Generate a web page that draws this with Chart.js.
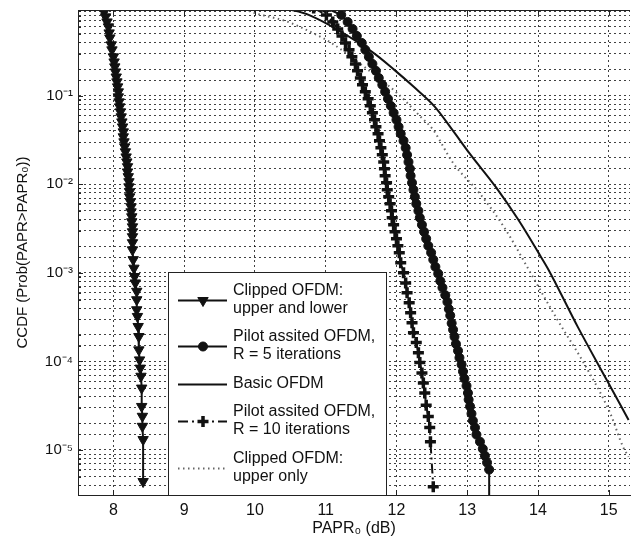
<!DOCTYPE html>
<html>
<head>
<meta charset="utf-8">
<title>CCDF of PAPR</title>
<script src="https://cdn.jsdelivr.net/npm/chart.js@4.4.1/dist/chart.umd.min.js"></script>
<style>
  html, body { margin: 0; padding: 0; background: #fff; }
  #wrap { width: 639px; height: 542px; position: relative; }
</style>
</head>
<body>
<div id="wrap"><canvas id="ccdf"></canvas></div>
<script>
// Clipped OFDM, upper and lower clipping (down triangles)
const clipBothPapr = [7.85, 7.87, 7.89, 7.91, 7.93, 7.94, 7.95, 7.97, 7.98, 8.00,
  8.01, 8.02, 8.03, 8.04, 8.05, 8.06, 8.07, 8.07, 8.08, 8.09,
  8.10, 8.11, 8.12, 8.13, 8.14, 8.14, 8.15, 8.16, 8.17, 8.18,
  8.19, 8.20, 8.20, 8.21, 8.22, 8.22, 8.23, 8.23, 8.24, 8.25,
  8.25, 8.26, 8.26, 8.27, 8.27, 8.27, 8.27, 8.27, 8.28, 8.29,
  8.30, 8.31, 8.33, 8.33, 8.33, 8.34, 8.35, 8.36, 8.36, 8.37,
  8.38, 8.39, 8.40, 8.40, 8.41, 8.41, 8.42, 8.42];
const clipBothCcdf = [0.99, 0.885, 0.778, 0.682, 0.600, 0.513, 0.450, 0.376, 0.330, 0.275,
  0.241, 0.212, 0.186, 0.163, 0.1435, 0.126, 0.1107, 0.0972, 0.0853, 0.0750,
  0.0658, 0.0578, 0.0507, 0.0445, 0.0391, 0.0344, 0.0302, 0.0265, 0.0233, 0.0204,
  0.0179, 0.0158, 0.0138, 0.0122, 0.0107, 0.00937, 0.00823, 0.00723, 0.00635, 0.00557,
  0.00489, 0.00430, 0.00378, 0.00331, 0.00291, 0.00256, 0.00219, 0.00182, 0.00141, 0.00113,
  9.1e-4, 7.7e-4, 6.2e-4, 4.97e-4, 3.83e-4, 3.22e-4, 2.48e-4, 1.91e-4, 1.35e-4, 1.04e-4,
  8.4e-5, 6.8e-5, 5.0e-5, 3.1e-5, 2.4e-5, 1.85e-5, 1.31e-5, 4.4e-6];

// Pilot assisted OFDM, R = 5 (circles)
const pilot5Papr = [11.00, 11.22, 11.31, 11.38, 11.44, 11.51, 11.56, 11.61, 11.66, 11.71,
  11.75, 11.80, 11.84, 11.88, 11.92, 11.96, 12.00, 12.03, 12.06, 12.10,
  12.13, 12.15, 12.17, 12.19, 12.20, 12.22, 12.24, 12.26, 12.28, 12.31,
  12.33, 12.36, 12.39, 12.42, 12.45, 12.49, 12.52, 12.55, 12.59, 12.62,
  12.65, 12.69, 12.72, 12.74, 12.76, 12.78, 12.80, 12.82, 12.84, 12.87,
  12.89, 12.92, 12.94, 12.96, 12.99, 13.01, 13.02, 13.04, 13.06, 13.08,
  13.11, 13.13, 13.18, 13.22, 13.25, 13.28, 13.31, 13.31];
const pilot5Ccdf = [0.98, 0.819, 0.682, 0.569, 0.474, 0.395, 0.330, 0.275, 0.229, 0.191,
  0.159, 0.133, 0.111, 0.0923, 0.0769, 0.0641, 0.0535, 0.0446, 0.0372, 0.0310,
  0.0258, 0.0215, 0.0179, 0.0150, 0.0125, 0.0104, 0.00867, 0.00723, 0.00603, 0.00502,
  0.00419, 0.00349, 0.00291, 0.00243, 0.00202, 0.00169, 0.00141, 0.00117, 9.8e-4, 8.1e-4,
  6.8e-4, 5.6e-4, 4.7e-4, 3.9e-4, 3.3e-4, 2.7e-4, 2.28e-4, 1.90e-4, 1.58e-4, 1.32e-4,
  1.10e-4, 9.2e-5, 7.7e-5, 6.4e-5, 5.3e-5, 4.4e-5, 3.7e-5, 3.1e-5, 2.57e-5, 2.14e-5,
  1.79e-5, 1.49e-5, 1.24e-5, 1.03e-5, 8.6e-6, 7.2e-6, 6.0e-6, 2.0e-6];

// Basic OFDM (plain solid)
const basicPapr = [10.45, 10.76, 11.65, 11.97, 12.24, 12.54, 12.79, 13.03, 13.40, 13.72,
  14.01, 14.15, 14.56, 14.97, 15.28];
const basicCcdf = [0.96, 0.82, 0.315, 0.196, 0.127, 0.0755, 0.0412, 0.0225, 0.0094, 0.0040,
  0.00167, 0.00108, 2.47e-4, 6.2e-5, 2.18e-5];

// Pilot assisted OFDM, R = 10 (plus signs, dash-dot)
const pilot10Papr = [10.83, 11.01, 11.10, 11.17, 11.23, 11.28, 11.33, 11.37, 11.42, 11.45,
  11.49, 11.52, 11.56, 11.60, 11.63, 11.66, 11.69, 11.71, 11.74, 11.76,
  11.78, 11.80, 11.82, 11.83, 11.84, 11.86, 11.87, 11.89, 11.91, 11.93,
  11.94, 11.96, 11.98, 12.00, 12.02, 12.04, 12.06, 12.10, 12.13, 12.15,
  12.18, 12.20, 12.22, 12.24, 12.28, 12.31, 12.33, 12.36, 12.38, 12.40,
  12.42, 12.45, 12.47, 12.48, 12.52];
const pilot10Ccdf = [0.98, 0.819, 0.682, 0.569, 0.474, 0.395, 0.330, 0.275, 0.229, 0.191,
  0.159, 0.133, 0.111, 0.0923, 0.0769, 0.0641, 0.0535, 0.0446, 0.0372, 0.0310,
  0.0258, 0.0215, 0.0179, 0.0150, 0.0125, 0.0104, 0.00867, 0.00723, 0.00603, 0.00502,
  0.00419, 0.00349, 0.00291, 0.00243, 0.00202, 0.00169, 0.00130, 0.00100, 7.7e-4, 5.96e-4,
  4.6e-4, 3.55e-4, 2.73e-4, 2.11e-4, 1.63e-4, 1.25e-4, 9.7e-5, 7.4e-5, 5.7e-5, 4.4e-5,
  3.2e-5, 2.38e-5, 1.79e-5, 1.24e-5, 3.85e-6];

// Clipped OFDM, upper clipping only (dotted)
const clipUpperPapr = [9.85, 9.94, 10.45, 10.82, 11.09, 11.60, 12.01, 12.34, 12.52, 12.80,
  13.17, 13.54, 13.92, 14.28, 14.65, 15.02, 15.20, 15.28];
const clipUpperCcdf = [0.96, 0.89, 0.69, 0.51, 0.39, 0.196, 0.107, 0.058, 0.041, 0.0174,
  0.0080, 0.0031, 9.2e-4, 2.9e-4, 9.5e-5, 2.6e-5, 1.09e-5, 8.4e-6];

const seriesNames = [
  ['Clipped OFDM:', 'upper and lower'],
  ['Pilot assited OFDM,', 'R = 5 iterations'],
  ['Basic OFDM'],
  ['Pilot assited OFDM,', 'R = 10 iterations'],
  ['Clipped OFDM:', 'upper only']
];

const xTicks = [8, 9, 10, 11, 12, 13, 14, 15];
const xRange = [7.5, 15.3];
const yRange = [3.1e-6, 0.93];
const yDecades = [1e-1, 1e-2, 1e-3, 1e-4, 1e-5];
const yDecadeLabels = ['10\u207B\u00B9', '10\u207B\u00B2', '10\u207B\u00B3', '10\u207B\u2074', '10\u207B\u2075'];

const FONT = "'Liberation Sans', Arial, Helvetica, sans-serif";
const INK = '#111';

function toPoints(xs, ys) {
  return xs.map((x, i) => ({ x: x, y: ys[i] }));
}

function decadeIndex(v) {
  return yDecades.findIndex(d => Math.abs(Math.log10(v) - Math.log10(d)) < 1e-6);
}

// marker shapes for the legend samples (same geometry Chart.js uses)
function drawMarker(ctx, style, x, y, r, rotation, color, width) {
  ctx.save();
  ctx.translate(x, y);
  ctx.rotate((rotation || 0) * Math.PI / 180);
  ctx.setLineDash([]);
  ctx.fillStyle = color;
  ctx.strokeStyle = color;
  ctx.lineWidth = width;
  ctx.beginPath();
  if (style === 'triangle') {
    for (let k = 0; k < 3; k++) {
      const a = k * 2 * Math.PI / 3;
      const px = Math.sin(a) * r, py = -Math.cos(a) * r;
      if (k) ctx.lineTo(px, py); else ctx.moveTo(px, py);
    }
    ctx.closePath();
    ctx.fill();
    ctx.stroke();
  } else if (style === 'circle') {
    ctx.arc(0, 0, r, 0, Math.PI * 2);
    ctx.fill();
    ctx.stroke();
  } else if (style === 'cross') {
    ctx.moveTo(-r, 0); ctx.lineTo(r, 0);
    ctx.moveTo(0, -r); ctx.lineTo(0, r);
    ctx.stroke();
  }
  ctx.restore();
}

// top border and inward tick marks, matlab style
const framePlugin = {
  id: 'frame',
  afterDraw(chart) {
    const { ctx, chartArea: a, scales } = chart;
    ctx.save();
    ctx.strokeStyle = '#222';
    ctx.lineWidth = 1;
    ctx.beginPath();
    ctx.moveTo(a.left, a.top + 0.5);
    ctx.lineTo(a.right, a.top + 0.5);
    scales.x.ticks.forEach(t => {
      const px = Math.round(scales.x.getPixelForValue(t.value)) + 0.5;
      ctx.moveTo(px, a.bottom); ctx.lineTo(px, a.bottom - 5);
      ctx.moveTo(px, a.top); ctx.lineTo(px, a.top + 5);
    });
    scales.y.ticks.forEach(t => {
      const py = Math.round(scales.y.getPixelForValue(t.value)) + 0.5;
      const len = decadeIndex(t.value) >= 0 ? 5 : 3;
      ctx.moveTo(a.left, py); ctx.lineTo(a.left + len, py);
    });
    ctx.stroke();
    ctx.restore();
  }
};

// boxed legend with two-line entries
const boxLegendPlugin = {
  id: 'boxLegend',
  afterDraw(chart) {
    const ctx = chart.ctx;
    const box = { left: 168, top: 272, right: 386, bottom: 495 };
    const lineH = 18, entryGap = 10.5;
    ctx.save();
    ctx.fillStyle = '#fff';
    ctx.fillRect(box.left, box.top, box.right - box.left, box.bottom - box.top);
    ctx.strokeStyle = '#222';
    ctx.lineWidth = 1;
    ctx.strokeRect(box.left + 0.5, box.top + 0.5, box.right - box.left, box.bottom - box.top);

    ctx.font = '16px ' + FONT;
    ctx.textBaseline = 'middle';
    ctx.textAlign = 'left';
    let y = box.top + 18.5;
    chart.data.datasets.forEach(ds => {
      const lines = ds.legendLines;
      const midY = Math.round(y + (lines.length - 1) * lineH / 2) + 0.5;
      // sample line
      ctx.save();
      ctx.strokeStyle = ds.borderColor;
      ctx.lineWidth = ds.borderWidth;
      ctx.setLineDash(ds.borderDash || []);
      ctx.beginPath();
      ctx.moveTo(178, midY);
      ctx.lineTo(227, midY);
      ctx.stroke();
      ctx.restore();
      if (ds.pointRadius > 0) {
        drawMarker(ctx, ds.pointStyle, 203, midY, ds.pointRadius,
          ds.pointRotation, ds.pointBorderColor, ds.pointBorderWidth);
      }
      ctx.fillStyle = INK;
      lines.forEach((txt, k) => ctx.fillText(txt, 233, y + k * lineH));
      y += lines.length * lineH + entryGap;
    });
    ctx.restore();
  }
};

const gridStyle = { color: 'rgba(0,0,0,0.75)', lineWidth: 1, drawTicks: false };
const borderStyle = { display: true, color: '#222', width: 1, dash: [2, 3] };

new Chart(document.getElementById('ccdf'), {
  type: 'line',
  data: {
    datasets: [
      {
        label: seriesNames[0].join(' '), legendLines: seriesNames[0],
        data: toPoints(clipBothPapr, clipBothCcdf),
        borderColor: INK, borderWidth: 2, tension: 0,
        pointStyle: 'triangle', pointRotation: 180, pointRadius: 6,
        pointBackgroundColor: INK, pointBorderColor: INK, pointBorderWidth: 1
      },
      {
        label: seriesNames[1].join(' '), legendLines: seriesNames[1],
        data: toPoints(pilot5Papr, pilot5Ccdf),
        borderColor: INK, borderWidth: 2, tension: 0,
        pointStyle: 'circle', pointRadius: 4.5,
        pointBackgroundColor: INK, pointBorderColor: INK, pointBorderWidth: 1
      },
      {
        label: seriesNames[2].join(' '), legendLines: seriesNames[2],
        data: toPoints(basicPapr, basicCcdf),
        borderColor: INK, borderWidth: 2, cubicInterpolationMode: 'monotone',
        pointRadius: 0
      },
      {
        label: seriesNames[3].join(' '), legendLines: seriesNames[3],
        data: toPoints(pilot10Papr, pilot10Ccdf),
        borderColor: INK, borderWidth: 2, borderDash: [10, 4, 2, 4], tension: 0,
        pointStyle: 'cross', pointRadius: 5.5,
        pointBackgroundColor: INK, pointBorderColor: INK, pointBorderWidth: 3.5
      },
      {
        label: seriesNames[4].join(' '), legendLines: seriesNames[4],
        data: toPoints(clipUpperPapr, clipUpperCcdf),
        borderColor: '#666', borderWidth: 2, borderDash: [1.5, 3.5], cubicInterpolationMode: 'monotone',
        pointRadius: 0
      }
    ]
  },
  options: {
    responsive: true,
    maintainAspectRatio: false,
    animation: false,
    layout: { padding: { top: 10, right: 0, left: 0, bottom: 0 } },
    plugins: {
      legend: { display: false },
      tooltip: { enabled: false }
    },
    scales: {
      x: {
        type: 'linear',
        min: xRange[0],
        max: xRange[1],
        afterFit: s => { s.height = 47; },
        afterBuildTicks: s => { s.ticks = xTicks.map(v => ({ value: v })); },
        ticks: {
          autoSkip: false,
          maxRotation: 0,
          padding: 6,
          color: INK,
          font: { family: FONT, size: 16 },
          callback: v => String(v)
        },
        grid: gridStyle,
        border: borderStyle,
        title: {
          display: true,
          text: 'PAPR\u2080 (dB)',
          color: INK,
          font: { family: FONT, size: 16 },
          padding: { top: 0, bottom: 4 }
        }
      },
      y: {
        type: 'logarithmic',
        min: yRange[0],
        max: yRange[1],
        afterFit: s => {
          s.width = 78;
          // frame edges carry no labels, so no extra room above/below
          s.paddingTop = 0;
          s.paddingBottom = 0;
        },
        ticks: {
          autoSkip: false,
          padding: 5,
          color: INK,
          font: { family: FONT, size: 15 },
          callback: (v, i, ticks) => {
            if (i === 0 || i === ticks.length - 1) return null;
            const k = decadeIndex(v);
            return k >= 0 ? yDecadeLabels[k] : '';
          }
        },
        grid: gridStyle,
        border: borderStyle,
        title: {
          display: true,
          text: 'CCDF (Prob(PAPR>PAPR\u2080))',
          color: INK,
          font: { family: FONT, size: 15 },
          padding: { top: 14, bottom: 0 }
        }
      }
    }
  },
  plugins: [framePlugin, boxLegendPlugin]
});
</script>
</body>
</html>
